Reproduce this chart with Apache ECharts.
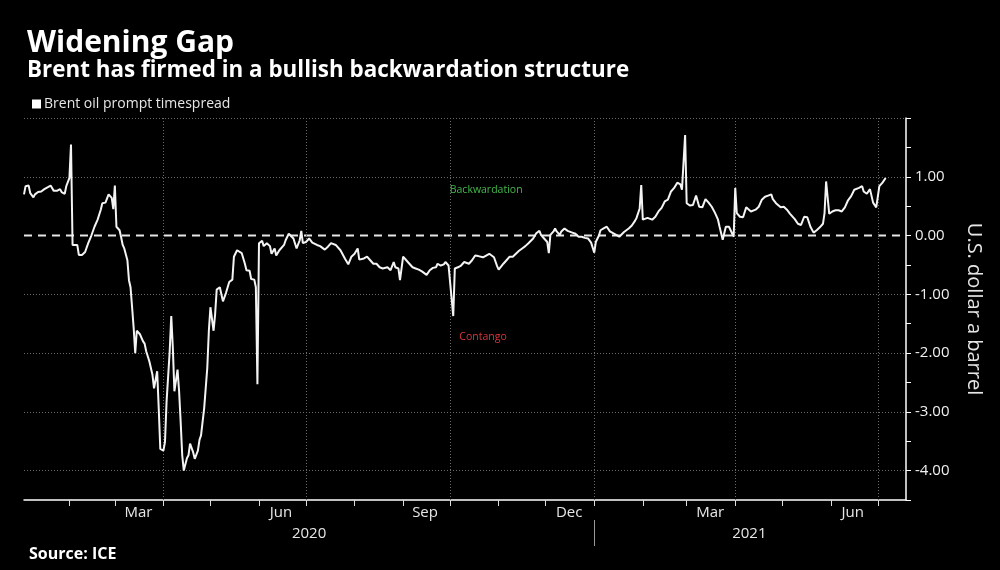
<!DOCTYPE html>
<html><head><meta charset="utf-8">
<script src="https://cdn.jsdelivr.net/npm/echarts@6/dist/echarts.min.js"></script>
<style>html,body{margin:0;padding:0;background:#000;}#c{width:1000px;height:570px;}</style>
</head><body><div id="c"></div>
<script>
// ---- data ----
const startDate = '2020-01-03';           // first observation
const axisStart = '2020-01-03';
const axisEnd = '2021-07-19';
// days after startDate for each observation
const dayOffsets = [
  0,1,3,4,6,7,9,11,13,17,19,21,23,24,26,27,29,30,31,34,
  35,37,39,41,43,45,47,49,50,52,53,54,56,57,58,59,61,62,63,64,
  66,67,68,69,70,71,72,74,76,77,78,80,82,83,84,85,86,87,89,90,
  91,93,94,95,96,98,99,100,101,102,104,105,106,108,109,111,112,113,115,117,
  118,119,121,122,123,125,127,129,131,133,134,136,139,141,142,144,145,147,148,149,
  150,152,153,155,157,158,160,161,163,166,167,169,170,172,174,176,177,178,180,182,
  184,187,189,192,194,196,199,202,205,207,209,211,213,214,217,219,221,223,225,227,
  229,232,234,236,237,239,240,242,244,246,248,250,252,254,257,259,261,263,264,266,
  268,269,271,272,274,275,277,279,281,284,286,288,290,293,295,297,300,302,303,306,
  308,310,312,314,316,318,320,322,323,325,327,329,330,332,334,335,336,338,339,340,
  342,343,345,347,350,352,354,356,358,360,362,364,365,367,368,370,372,374,376,378,
  380,383,384,386,388,390,391,393,394,395,396,398,401,403,405,407,409,411,413,415,
  417,419,420,422,423,425,427,429,431,433,435,437,439,441,443,444,445,446,448,450,
  451,453,454,455,457,459,461,462,464,467,469,471,473,475,477,478,480,483,485,487,
  489,492,494,496,498,500,502,504,506,508,510,511,512,514,516,518,520,522,524,526,
  528,530,533,535,536,538,540,541,542,544,545,546,548,550
];
// Brent oil prompt timespread, US$ a barrel
const spreadValues = [
  0.70,0.84,0.85,0.72,0.65,0.70,0.74,0.75,0.79,0.85,0.76,0.76,0.79,0.74,0.71,0.84,0.98,1.55,-0.16,-0.16,
  -0.33,-0.33,-0.28,-0.13,0.00,0.15,0.27,0.44,0.55,0.56,0.54,0.70,0.64,0.45,0.85,0.15,0.09,-0.03,-0.16,-0.22,
  -0.42,-0.76,-0.88,-1.22,-1.57,-2.00,-1.62,-1.68,-1.80,-1.84,-1.97,-2.14,-2.37,-2.60,-2.60,-2.31,-2.94,-3.63,-3.66,-3.51,
  -2.83,-1.97,-1.37,-1.91,-2.65,-2.28,-2.65,-3.17,-3.74,-4.00,-3.79,-3.74,-3.54,-3.69,-3.80,-3.66,-3.48,-3.40,-2.94,-2.25,
  -1.62,-1.22,-1.62,-1.34,-0.92,-0.88,-1.12,-0.97,-0.79,-0.75,-0.36,-0.25,-0.30,-0.48,-0.59,-0.60,-0.74,-0.75,-0.88,-2.53,
  -0.13,-0.09,-0.18,-0.13,-0.18,-0.31,-0.22,-0.34,-0.25,-0.16,-0.08,0.03,0.04,-0.05,-0.22,-0.08,0.08,-0.13,-0.11,-0.05,
  -0.12,-0.16,-0.18,-0.24,-0.19,-0.13,-0.16,-0.25,-0.40,-0.49,-0.36,-0.31,-0.22,-0.41,-0.39,-0.36,-0.42,-0.48,-0.48,-0.54,
  -0.56,-0.54,-0.59,-0.45,-0.54,-0.56,-0.76,-0.36,-0.42,-0.48,-0.54,-0.56,-0.58,-0.61,-0.67,-0.59,-0.55,-0.54,-0.48,-0.51,
  -0.49,-0.45,-0.51,-0.48,-1.37,-0.56,-0.54,-0.51,-0.45,-0.48,-0.42,-0.34,-0.35,-0.37,-0.34,-0.31,-0.37,-0.52,-0.58,-0.48,
  -0.42,-0.36,-0.36,-0.31,-0.26,-0.22,-0.18,-0.13,-0.13,-0.05,0.04,0.08,0.01,-0.05,-0.11,-0.30,0.01,0.07,0.12,0.07,
  0.01,0.07,0.12,0.08,0.05,0.03,-0.02,-0.02,-0.04,-0.05,-0.12,-0.29,-0.11,0.00,0.09,0.12,0.15,0.07,0.04,0.01,
  -0.02,0.06,0.09,0.12,0.17,0.25,0.30,0.46,0.86,0.27,0.25,0.30,0.27,0.32,0.41,0.47,0.58,0.61,0.75,0.81,
  0.90,0.87,0.78,1.71,0.55,0.51,0.52,0.68,0.49,0.48,0.62,0.56,0.49,0.39,0.27,0.15,0.04,-0.07,0.15,0.15,
  0.12,-0.02,0.81,0.38,0.32,0.31,0.48,0.45,0.41,0.44,0.49,0.61,0.66,0.68,0.70,0.62,0.55,0.48,0.49,0.44,
  0.37,0.28,0.20,0.18,0.32,0.31,0.15,0.05,0.09,0.14,0.20,0.38,0.92,0.37,0.41,0.43,0.43,0.41,0.48,0.60,
  0.67,0.78,0.81,0.84,0.75,0.71,0.79,0.81,0.56,0.48,0.49,0.84,0.90,0.98
];
const seriesName = 'Brent oil prompt timespread';
const zeroLineValue = 0;
const monthTicks = ['2020-02-01','2020-03-01','2020-04-01','2020-05-01','2020-06-01','2020-07-01','2020-08-01',
  '2020-09-01','2020-10-01','2020-11-01','2020-12-01','2021-01-01','2021-02-01','2021-03-01','2021-04-01',
  '2021-05-01','2021-06-01','2021-07-01'];
const monthLabelDates = ['2020-03-16','2020-06-15','2020-09-15','2020-12-16','2021-03-16','2021-06-15'];
const monthLabelTexts = ['Mar','Jun','Sep','Dec','Mar','Jun'];
const yearLabelDates = ['2020-07-03','2021-04-10'];
const yearLabelTexts = ['2020','2021'];
const yearBreaks = ['2021-01-01'];
const quarterGrid = ['2020-04-01','2020-07-01','2020-10-01','2021-01-01','2021-04-01','2021-07-01'];
const yTicks = [-4.5,-4,-3.5,-3,-2.5,-2,-1.5,-1,-0.5,0,0.5,1,1.5,2];
const yLabels = [-4,-3,-2,-1,0,1];
const yGrid = [-4,-3,-2,-1,1,2];
const annotationDates = ['2020-10-24','2020-10-22'];
const annotationValues = [0.78,-1.73];
const annotationTexts = ['Backwardation','Contango'];
const annotationColors = ['#44b84c','#d8353a'];

// ---- chart ----
const DAY = 86400000;
const ts = s => new Date(s + 'T00:00:00').getTime();
const t0 = ts(startDate);
const lineData = dayOffsets.map((d, i) => [t0 + d * DAY, spreadValues[i]]);
const zeroData = [[ts(axisStart), zeroLineValue], [ts(axisEnd), zeroLineValue]];
const lookup = (dates, texts) => v => {
  for (let i = 0; i < dates.length; i++) if (Math.abs(ts(dates[i]) - v) < DAY / 2) return texts[i];
  return '';
};
const FONT = 'Open Sans';

const chart = echarts.init(document.getElementById('c'));
chart.setOption({
  backgroundColor: '#000',
  animation: false,
  textStyle: { fontFamily: FONT },
  title: [
    { text: 'Widening Gap', left: 22, top: 23, textStyle: { color: '#fff', fontSize: 30, fontWeight: 'bold', fontFamily: FONT } },
    { text: 'Brent has firmed in a bullish backwardation structure', left: 22, top: 55, textStyle: { color: '#fff', fontSize: 22.4, fontWeight: 'bold', fontFamily: FONT } },
    { text: 'Source: ICE', left: 24, top: 541, textStyle: { color: '#fff', fontSize: 16, fontWeight: 'bold', fontFamily: FONT } }
  ],
  legend: {
    data: [seriesName], left: 27, top: 92, icon: 'rect', itemWidth: 9, itemHeight: 9,
    textStyle: { color: '#e6e6e6', fontSize: 14, fontFamily: FONT, padding: [0, 0, 0, -2] }, selectedMode: false
  },
  grid: { left: 24, right: 94, top: 118, bottom: 70 },
  xAxis: [
    {
      type: 'value', min: ts(axisStart), max: ts(axisEnd),
      axisLine: { onZero: false, lineStyle: { color: '#fff', width: 1.5 } },
      axisTick: { show: false },
      axisLabel: { customValues: monthLabelDates.map(ts), formatter: lookup(monthLabelDates, monthLabelTexts),
        color: '#e6e6e6', fontSize: 15, margin: 5, fontFamily: FONT },
      splitLine: { show: false }
    },
    {
      type: 'value', min: ts(axisStart), max: ts(axisEnd), position: 'bottom', offset: 20,
      axisLine: { show: false, onZero: false },
      axisTick: { show: true, customValues: yearBreaks.map(ts), length: 26, lineStyle: { color: '#999' } },
      axisLabel: { customValues: yearLabelDates.map(ts), formatter: lookup(yearLabelDates, yearLabelTexts),
        color: '#e6e6e6', fontSize: 15, margin: 6, fontFamily: FONT },
      splitLine: { show: false }
    },
    {
      type: 'value', min: ts(axisStart), max: ts(axisEnd), position: 'bottom', offset: 0,
      axisLine: { show: false, onZero: false },
      axisTick: { show: true, customValues: monthTicks.map(ts), length: 6, lineStyle: { color: '#ddd', width: 1 } },
      axisLabel: { show: false },
      splitLine: { show: false }
    }
  ],
  yAxis: {
    type: 'value', position: 'right', min: -4.5, max: 2, interval: 0.5,
    axisLine: { show: true, onZero: false, lineStyle: { color: '#fff', width: 1.5 } },
    axisTick: { show: true, customValues: yTicks, length: 5, lineStyle: { color: '#fff' } },
    axisLabel: { customValues: yLabels, formatter: v => v.toFixed(2), color: '#f0f0f0', fontSize: 15, margin: 9, fontFamily: FONT },
    splitLine: { show: false },
    name: 'U.S. dollar a barrel', nameLocation: 'middle', nameRotate: -90, nameGap: 58,
    nameTextStyle: { color: '#e6e6e6', fontSize: 20, fontFamily: FONT }
  },
  series: [
    {
      name: 'gridlines', type: 'line', data: lineData, showSymbol: false, silent: true, z: 1,
      lineStyle: { opacity: 0 }, itemStyle: { opacity: 0 },
      markLine: {
        silent: true, symbol: ['none', 'none'], label: { show: false }, emphasis: { disabled: true },
        lineStyle: { color: '#6a6a6a', type: [1, 2], width: 1 },
        data: yGrid.map(v => ({ yAxis: v })).concat(quarterGrid.map(d => ({ xAxis: ts(d) })))
      },
      markPoint: {
        silent: true, symbol: 'circle', symbolSize: 1, itemStyle: { color: 'rgba(0,0,0,0)' },
        data: annotationDates.map((d, i) => ({
          coord: [ts(d), annotationValues[i]], name: annotationTexts[i],
          label: { show: true, position: 'inside', formatter: '{b}', color: annotationColors[i], fontSize: 10.5, fontFamily: FONT }
        }))
      }
    },
    {
      name: 'zero', type: 'line', data: zeroData, showSymbol: false, silent: true, z: 2,
      lineStyle: { color: '#e6e6e6', type: [8, 6], width: 2 }, itemStyle: { color: '#e6e6e6' }
    },
    {
      name: seriesName, type: 'line', data: lineData, showSymbol: false, z: 5,
      lineStyle: { color: '#f4f4f4', width: 2 }, itemStyle: { color: '#fff' }
    }
  ]
});
</script>
</body></html>
